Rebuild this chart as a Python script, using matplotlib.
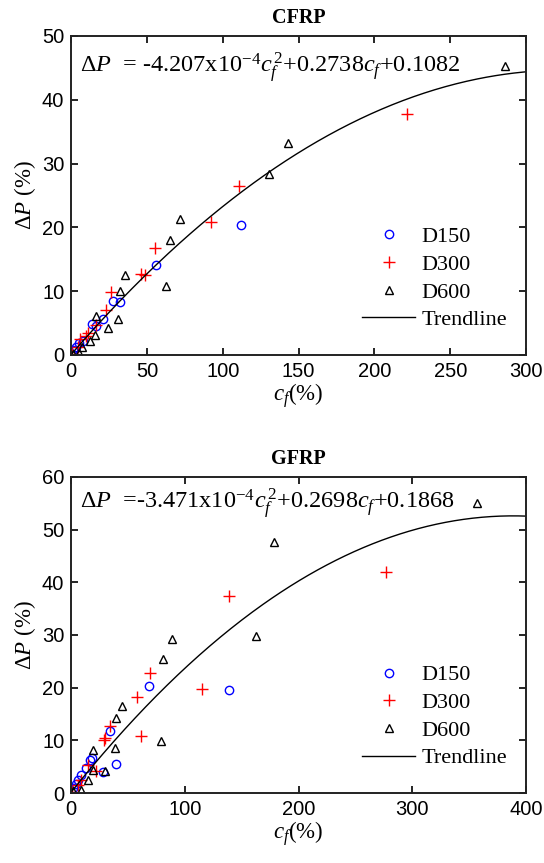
import numpy as np
import matplotlib
matplotlib.use("Agg")
import matplotlib.pyplot as plt

plt.rcParams['font.family'] = ['Liberation Serif', 'DejaVu Serif']
plt.rcParams['mathtext.fontset'] = 'custom'
plt.rcParams['mathtext.rm'] = 'Liberation Serif'
plt.rcParams['mathtext.it'] = 'Liberation Serif:italic'

# --- CFRP data ---
c150_x = [0.3, 1.2, 3, 5.2, 7.8, 13.7, 16.2, 21, 27.6, 32.4, 55.7, 111.8]
c150_y = [0.1, 0.8, 1.3, 1.8, 2.2, 4.8, 4.6, 5.6, 8.5, 8.3, 14.1, 20.3]
c300_x = [0.3, 4.5, 5.6, 10, 11.1, 16.6, 23.2, 26.5, 46.3, 48.5, 55.1, 92, 110.5, 221.5]
c300_y = [0.1, 1.3, 2.5, 3.0, 3.4, 4.7, 7.0, 9.8, 12.7, 12.5, 16.8, 20.9, 26.5, 37.7]
c600_x = [1.2, 5.2, 7.4, 12.2, 15.5, 16.2, 24.3, 30.5, 32.4, 35.3, 62.3, 65, 71.6, 130.3, 143, 286]
c600_y = [0.2, 0.3, 1.3, 2.2, 3.1, 6.1, 4.2, 5.7, 10.1, 12.5, 10.8, 18.0, 21.3, 28.4, 33.3, 45.3]
c_coef = [-4.207e-4, 0.2738, 0.1082]

# --- GFRP data ---
g150_x = [1.4, 3.8, 5.8, 8.8, 12.6, 16.1, 18.2, 27.8, 33.7, 39.6, 68.3, 138.5]
g150_y = [1.0, 1.8, 2.4, 3.5, 4.8, 6.2, 6.7, 4.0, 11.7, 5.6, 20.3, 19.5]
g300_x = [0.5, 5.8, 8.8, 14.6, 22, 28.7, 29.3, 33.7, 57.8, 61, 69, 115.3, 138.5, 276.7]
g300_y = [0.1, 1.45, 2.4, 5.3, 4.2, 10.1, 10.5, 12.8, 18.2, 10.8, 22.7, 19.7, 37.4, 42.0]
g600_x = [1.4, 8.8, 14.6, 19, 19, 29.3, 38.7, 39.6, 44.3, 78.6, 80.5, 89, 162.8, 178.3, 357]
g600_y = [0.3, 0.5, 2.4, 4.4, 8.1, 4.2, 8.5, 14.2, 16.6, 9.9, 25.4, 29.2, 29.9, 47.7, 55.1]
g_coef = [-3.471e-4, 0.2698, 0.1868]

fig = plt.figure(figsize=(5.44, 8.63), dpi=100)
ax1 = fig.add_axes([0.131, 0.5887, 0.836, 0.3696])
ax2 = fig.add_axes([0.131, 0.0811, 0.836, 0.3662])


def draw(ax, d150, d300, d600, coef, xmax, ymax, xt, yt, title, eq, eq_y, leg_anchor):
    ax.plot(d150[0], d150[1], 'o', mfc='none', mec='blue', ms=6, mew=1.0,
            ls='none', label='D150')
    ax.plot(d300[0], d300[1], '+', color='red', ms=9, mew=1.0,
            ls='none', label='D300')
    ax.plot(d600[0], d600[1], '^', mfc='none', mec='black', ms=6, mew=1.0,
            ls='none', label='D600')
    xs = np.linspace(0, xmax, 300)
    ax.plot(xs, np.polyval(coef, xs), 'k-', lw=1.0, label='Trendline')
    ax.set_xlim(0, xmax)
    ax.set_ylim(0, ymax)
    ax.set_xticks(xt)
    ax.set_yticks(yt)
    ax.tick_params(direction='in', top=True, right=True, length=5, width=1.2,
                   labelsize=14.5, pad=5)
    for lab in ax.get_xticklabels() + ax.get_yticklabels():
        lab.set_family('Liberation Sans')
    for s in ax.spines.values():
        s.set_linewidth(1.4)
        s.set_color('#222222')
    ax.set_title(title, fontweight='bold', fontsize=14.5, pad=9)
    ax.set_xlabel(r'$c_f$(%)', fontsize=16.5, labelpad=0)
    ax.set_ylabel(r'$\Delta P$ (%)', fontsize=16.5, labelpad=3)
    ax.text(0.02, eq_y, eq, transform=ax.transAxes, fontsize=17.5, va='center')
    ax.legend(loc='center left', bbox_to_anchor=leg_anchor, frameon=False,
              fontsize=16, borderpad=0, borderaxespad=0, handlelength=2.4,
              handletextpad=0.3, labelspacing=0.32)


draw(ax1, (c150_x, c150_y), (c300_x, c300_y), (c600_x, c600_y), c_coef,
     300, 50, [0, 50, 100, 150, 200, 250, 300], [0, 10, 20, 30, 40, 50], 'CFRP',
     r'$\Delta P$  = -4.207x10$^{-4}$$c_f^{\,2}$+0.2738$c_f$+0.1082', 0.90,
     (0.639, 0.24))
draw(ax2, (g150_x, g150_y), (g300_x, g300_y), (g600_x, g600_y), g_coef,
     400, 60, [0, 100, 200, 300, 400], [0, 10, 20, 30, 40, 50, 60], 'GFRP',
     r'$\Delta P$  =-3.471x10$^{-4}$$c_f^{\,2}$+0.2698$c_f$+0.1868', 0.915,
     (0.639, 0.242))

fig.savefig('out.png', dpi=100)
